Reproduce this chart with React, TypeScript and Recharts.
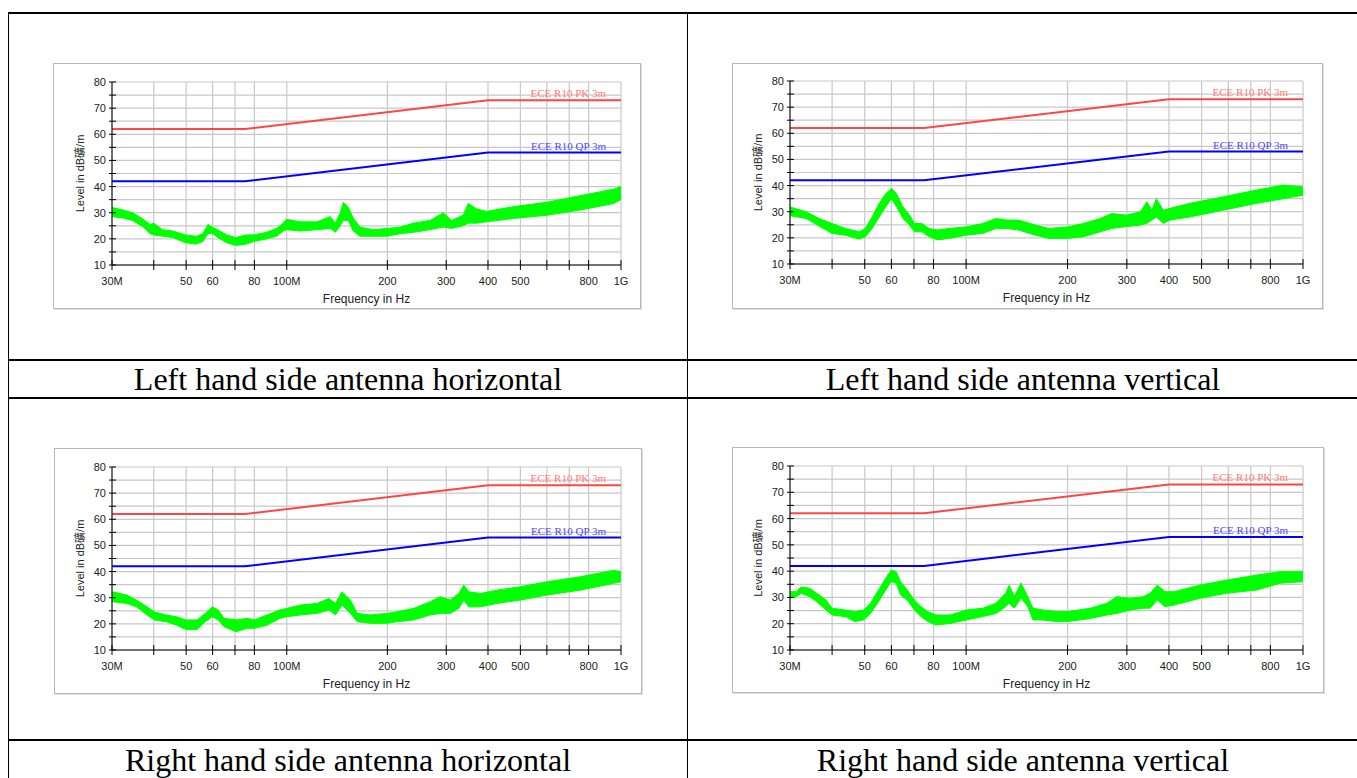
import React from "react";
import {
  ComposedChart,
  CartesianGrid,
  XAxis,
  YAxis,
  Line,
  Area,
  ReferenceDot
} from "recharts";

// limit lines (ECE R10, 3m)
const limitFreq = [30, 75, 400, 1000];
const pkLimit = [62, 62, 73, 73];
const qpLimit = [42, 42, 53, 53];

const xTicks = [30, 40, 50, 60, 70, 80, 100, 200, 300, 400, 500, 600, 700, 800, 1000];
const xTickLabels: { [k: number]: string } = {
  30: "30M",
  50: "50",
  60: "60",
  80: "80",
  100: "100M",
  200: "200",
  300: "300",
  400: "400",
  500: "500",
  800: "800",
  1000: "1G"
};
const yTicks = [10, 15, 20, 25, 30, 35, 40, 45, 50, 55, 60, 65, 70, 75, 80];

// Left hand side antenna horizontal (MHz, band low / high in dB)
const lhhFreq = [30, 32.4, 34.6, 37.2, 39, 40, 42.5, 45.6, 49.8, 53.6, 56.1, 58.1, 59.9, 63.1, 66.1, 70.3, 75.7, 79.8, 87, 93.2, 97.6, 99.8, 109.5, 123, 135, 139.8, 144.5, 147.7, 153, 158, 165.6, 181.5, 200, 219, 239, 268, 294, 311, 337, 349, 370, 396, 476, 599, 754, 949, 1000];
const lhhLo = [28.5, 28, 27, 24.5, 22, 21.5, 21, 20.5, 18.5, 18, 19, 22, 22, 20, 18.5, 17.5, 18, 19, 20, 21, 23, 23.5, 23, 23.5, 24, 22.5, 25, 27, 27, 23, 21, 21, 21, 22, 22.5, 23.5, 24.5, 24, 25, 26, 26, 26.5, 27.8, 29, 31, 33.5, 35];
const lhhHi = [32, 31, 30, 27.5, 25.5, 26, 23.5, 23, 21.5, 21, 22, 25.5, 24.5, 23, 21.5, 20.5, 21.5, 21.5, 22.5, 24, 26, 27.5, 26.5, 26.5, 28.5, 26, 30, 34, 32, 28, 24.5, 23.5, 24, 24.5, 26, 27, 30, 27, 29, 33.5, 31.5, 30.5, 32.3, 34, 36.5, 39, 40];

// Left hand side antenna vertical
const lhvFreq = [30, 33.5, 36.6, 40, 43.8, 48.2, 50.2, 52.6, 55.2, 57.8, 60, 62.1, 64.9, 67.9, 70.3, 73.9, 77.7, 82.2, 88.9, 100, 111.9, 122.8, 131.6, 143, 160.7, 176, 200, 223, 250, 270, 300, 329, 344, 356, 367, 385, 403, 462, 580, 729, 874, 1000];
const lhvLo = [28.5, 27.4, 24.5, 21.7, 21, 19.5, 20.4, 23.6, 28, 32, 35, 32, 27.4, 24.9, 22.3, 22.3, 20.4, 19.2, 19.8, 21, 21.7, 23.6, 23.6, 23, 21, 19.8, 19.8, 20.4, 22.3, 23.6, 24.3, 24.9, 25.5, 26.8, 28, 25.5, 26.8, 28, 30.6, 33.2, 35, 36.3];
const lhvHi = [31.8, 30, 27.4, 25.5, 23.6, 22.3, 23.6, 28, 33.2, 37, 38.9, 37, 31.9, 28.7, 25.5, 25.5, 23.6, 23, 23.6, 24.2, 25.5, 27.4, 26.8, 26.8, 24.9, 23.6, 24.2, 25.5, 27.4, 29.3, 28.7, 30, 33.8, 30.6, 35, 30.6, 31.3, 33.2, 35.7, 38.3, 40.2, 39.5];

// Right hand side antenna horizontal
const rhhFreq = [30, 33.2, 35.5, 38.2, 40.1, 43.6, 46.9, 49.9, 53.9, 57, 59.9, 62.4, 64.9, 70.5, 76.1, 79.9, 87.3, 95.3, 100, 109.7, 123, 133.7, 139.9, 146.3, 155, 162.6, 177.9, 199, 213.5, 239.6, 268.7, 287.8, 308.5, 326.9, 338.6, 350.3, 379.5, 425, 499.8, 600, 755, 951, 1000];
const rhhLo = [28.5, 27.8, 26.5, 23.4, 21.5, 20.8, 19.5, 17.8, 17.8, 20.8, 22.7, 21.5, 18.9, 17, 18.3, 18.3, 19.5, 22.1, 22.7, 23.4, 24, 25.3, 23.4, 27.2, 24, 20.8, 20.2, 20.2, 20.8, 21.5, 23.4, 24, 24, 25.9, 29.1, 26.5, 26.5, 27.8, 29.1, 31, 32.9, 35.5, 36.1];
const rhhHi = [32.3, 31, 29.1, 26.5, 24.6, 23.4, 22.7, 21.5, 21.5, 24, 26.5, 25.3, 22.1, 21.5, 22.1, 21.5, 23.4, 25.3, 25.9, 27.2, 27.8, 29.7, 27.8, 32.3, 29.1, 24, 23.4, 24, 24.6, 25.9, 28.5, 30.4, 29.1, 31.6, 34.8, 32.3, 31.6, 32.9, 34.2, 36.1, 38, 40.5, 39.9];

// Right hand side antenna vertical
const rhvFreq = [30, 31.3, 32.4, 34.3, 36, 38.4, 40, 43.8, 46.7, 49.6, 52, 54.6, 57.3, 59.9, 62, 63.9, 66.9, 70.2, 73.5, 76.9, 81.4, 89.6, 100, 112, 122.7, 131.1, 134.2, 139, 145.6, 152.4, 157.9, 169.3, 185.7, 200, 234, 261.8, 280, 307.2, 336, 352, 369.1, 389.4, 414.5, 495, 593.6, 729.1, 854.6, 1000];
const rhvLo = [29.7, 30.3, 31.6, 30.3, 28.4, 25.2, 23.3, 22.7, 20.8, 21.4, 23.9, 27.8, 32.2, 36, 35.4, 30.9, 29, 25.2, 22.7, 20.8, 19.5, 20.1, 21.4, 22.7, 23.9, 26.5, 27.8, 25.9, 29.7, 26.5, 21.4, 21.4, 20.8, 20.8, 22, 23.3, 23.9, 25.2, 25.9, 25.9, 29, 26.5, 27.1, 29.7, 31.6, 32.8, 35.4, 36];
const rhvHi = [32.2, 32.2, 34, 33.5, 31.6, 29, 25.9, 25.2, 24.6, 25.2, 27.8, 32.2, 36.6, 40.4, 39.8, 36, 32.8, 29, 26.5, 24.6, 23.3, 23.3, 25.2, 25.9, 27.8, 31.6, 34.7, 30.3, 35.5, 30.3, 25.9, 25.2, 24.6, 24.6, 25.9, 27.8, 30.3, 29.7, 30.3, 31.6, 34.7, 32.2, 32.2, 34.7, 36.6, 38.5, 39.8, 39.8];

const band = (freq: number[], lo: number[], hi: number[]) =>
  freq.map((f, i) => ({ f, band: [lo[i], hi[i]] }));

const pkData = limitFreq.map((f, i) => ({ f, v: pkLimit[i] }));
const qpData = limitFreq.map((f, i) => ({ f, v: qpLimit[i] }));

const sans = "'Liberation Sans', Arial, 'Noto Sans CJK SC', sans-serif";

// axis boxes are kept inside the margins, ticks start right at the plot edge
const Y_AXIS_W = 40;
const X_AXIS_H = 30;

function YTick(props: any) {
  const { x, y, payload } = props;
  return (
    <g>
      <line x1={x - 3} x2={x + 4} y1={y} y2={y} stroke="#000" />
      {payload.value % 10 === 0 && (
        <text x={x - 6} y={y + 4} textAnchor="end" fontSize={11} fill="#222">
          {payload.value}
        </text>
      )}
    </g>
  );
}

function XTick(props: any) {
  const { x, y, payload } = props;
  const label = xTickLabels[payload.value];
  return (
    <g>
      <line x1={x} x2={x} y1={y - 5} y2={y + 5} stroke="#000" />
      {label && (
        <text x={x} y={y + 20} textAnchor="middle" fontSize={11} fill="#222">
          {label}
        </text>
      )}
    </g>
  );
}

function LimitText(props: any) {
  const { viewBox, text, color } = props;
  return (
    <text
      x={viewBox.x - 15}
      y={viewBox.y - 3}
      textAnchor="end"
      fontSize={11}
      fill={color}
      style={{ fontFamily: "'Liberation Serif', serif" }}
    >
      {text}
    </text>
  );
}

type Box = { left: number; top: number; w: number; h: number; ml: number; mt: number; pw: number; ph: number };

function EmiPanel({ box, data }: { box: Box; data: { f: number; band: number[] }[] }) {
  const cw = box.w - 2;
  const ch = box.h - 2;
  return (
    <div
      style={{
        position: "absolute",
        left: box.left,
        top: box.top,
        width: cw,
        height: ch,
        border: "1px solid #b8b8b8",
        boxShadow: "1px 1px 0 #dedede",
        background: "#fff",
        fontFamily: sans
      }}
    >
      <ComposedChart
        width={cw}
        height={ch}
        data={data}
        margin={{
          top: box.mt,
          left: box.ml - Y_AXIS_W,
          right: cw - box.ml - box.pw,
          bottom: ch - box.mt - box.ph - X_AXIS_H
        }}
      >
        <CartesianGrid stroke="#c8c8c8" strokeWidth={1.2} />
        <XAxis
          dataKey="f"
          type="number"
          scale="log"
          domain={[30, 1000]}
          ticks={xTicks}
          interval={0}
          allowDataOverflow
          height={X_AXIS_H}
          tickLine={false}
          tickSize={0}
          tickMargin={0}
          tick={<XTick />}
          axisLine={{ stroke: "#000" }}
          label={{
            value: "Frequency in Hz",
            position: "insideTop",
            offset: 29,
            style: { fontSize: 12, fill: "#222" }
          }}
        />
        <YAxis
          type="number"
          domain={[10, 80]}
          ticks={yTicks}
          interval={0}
          allowDataOverflow
          width={Y_AXIS_W}
          tickLine={false}
          tickSize={0}
          tickMargin={0}
          tick={<YTick />}
          axisLine={{ stroke: "#000" }}
          label={{
            value: "Level in dB礦/m",
            angle: -90,
            position: "insideLeft",
            offset: 8,
            style: { textAnchor: "middle", fontSize: 11, fill: "#222" }
          }}
        />
        <Area
          dataKey="band"
          type="linear"
          stroke="#00ff00"
          strokeWidth={1}
          fill="#00ff00"
          fillOpacity={1}
          dot={false}
          activeDot={false}
          isAnimationActive={false}
        />
        <Line
          data={pkData}
          dataKey="v"
          type="linear"
          stroke="#ff4646"
          strokeWidth={2}
          dot={false}
          activeDot={false}
          isAnimationActive={false}
        />
        <Line
          data={qpData}
          dataKey="v"
          type="linear"
          stroke="#0000ff"
          strokeWidth={2}
          dot={false}
          activeDot={false}
          isAnimationActive={false}
        />
        <ReferenceDot
          x={limitFreq[3]}
          y={pkLimit[3]}
          r={0}
          fill="none"
          stroke="none"
          label={<LimitText text="ECE R10 PK 3m" color="#ff7a7a" />}
        />
        <ReferenceDot
          x={limitFreq[3]}
          y={qpLimit[3]}
          r={0}
          fill="none"
          stroke="none"
          label={<LimitText text="ECE R10 QP 3m" color="#4a4aff" />}
        />
      </ComposedChart>
    </div>
  );
}

const hLine = (top: number, key: string) => (
  <div key={key} style={{ position: "absolute", left: 8, top, width: 1360, height: 2, background: "#000" }} />
);
const vLine = (left: number, key: string) => (
  <div key={key} style={{ position: "absolute", left, top: 12, width: 1, height: 780, background: "#000" }} />
);

const captionStyle = (left: number, top: number, width: number): React.CSSProperties => ({
  position: "absolute",
  left,
  top,
  width,
  height: 36,
  lineHeight: "36px",
  textAlign: "center",
  fontFamily: "'Liberation Serif', 'Times New Roman', serif",
  fontSize: 32,
  color: "#000",
  whiteSpace: "nowrap"
});

function App() {
  return (
    <div
      style={{
        position: "absolute",
        left: 0,
        top: 0,
        width: 1357,
        height: 778,
        overflow: "hidden",
        background: "#fff"
      }}
    >
      {hLine(12, "h0")}
      {hLine(359, "h1")}
      {hLine(397, "h2")}
      {hLine(739, "h3")}
      {vLine(8, "v0")}
      {vLine(687, "v1")}

      <EmiPanel box={{ left: 53, top: 63, w: 588, h: 246, ml: 58, mt: 18, pw: 509, ph: 183 }} data={band(lhhFreq, lhhLo, lhhHi)} />
      <EmiPanel box={{ left: 732, top: 63, w: 591, h: 246, ml: 57, mt: 17, pw: 513, ph: 183 }} data={band(lhvFreq, lhvLo, lhvHi)} />
      <EmiPanel box={{ left: 54, top: 448, w: 588, h: 246, ml: 57, mt: 18, pw: 509, ph: 183 }} data={band(rhhFreq, rhhLo, rhhHi)} />
      <EmiPanel box={{ left: 732, top: 447, w: 592, h: 246, ml: 57, mt: 18, pw: 513, ph: 184 }} data={band(rhvFreq, rhvLo, rhvHi)} />

      <div style={captionStyle(9, 361, 678)}>Left hand side antenna horizontal</div>
      <div style={captionStyle(688, 361, 670)}>Left hand side antenna vertical</div>
      <div style={captionStyle(9, 742, 678)}>Right hand side antenna horizontal</div>
      <div style={captionStyle(688, 742, 670)}>Right hand side antenna vertical</div>
    </div>
  );
}

export default App;
